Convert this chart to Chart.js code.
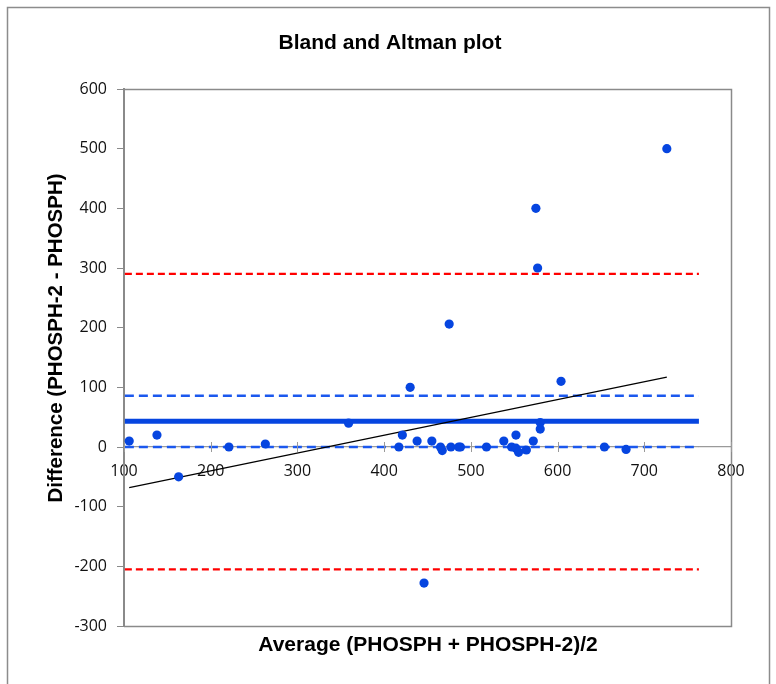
<!DOCTYPE html>
<html>
<head>
<meta charset="utf-8">
<script src="https://cdn.jsdelivr.net/npm/chart.js@4.4.0/dist/chart.umd.min.js"></script>
<style>
  html, body { margin: 0; padding: 0; background: #fff; }
  #wrap { width: 776px; height: 684px; }
</style>
</head>
<body>
<div id="wrap"><canvas id="ba" width="776" height="684"></canvas></div>
<script>
// --- data ---
const AVG  = [106, 138, 163, 221, 263, 359, 417, 421, 430, 438, 446, 455, 465, 467, 475, 477, 486, 488,
              518, 538, 547, 552, 552, 555, 564, 572, 575, 577, 580, 580, 604, 654, 679, 726];
const DIFF = [10, 20, -50, 0, 5, 40, 0, 20, 100, 10, -228, 10, 0, -6, 206, 0, 0, 0,
              0, 10, 0, 20, -2, -9, -5, 10, 400, 300, 30, 41, 110, 0, -4, 500];

const MEAN_DIFF = 43;
const CI_UPPER = 86;
const CI_LOWER = 0;
const LOA_UPPER = 290;
const LOA_LOWER = -205;
const LINE_X = [101, 763];

const REG_X = [106, 726];
const REG_Y = [-68, 117];

const X_RANGE = [100, 800];
const Y_RANGE = [-300, 600];
const TICK_STEP = 100;

const TITLE = 'Bland and Altman plot';
const X_TITLE = 'Average (PHOSPH + PHOSPH-2)/2';
const Y_TITLE = 'Difference (PHOSPH-2 - PHOSPH)';

const BLUE = '#0645e0';
const BLUE_DASH = '#1b58ee';
const RED = '#ff0000';
const AXIS_GREY = '#8a8a8a';

function hline(y) {
    return LINE_X.map(x => ({ x: x, y: y }));
}

// frame, titles and crossing x ticks (Excel style)
const decor = {
    id: 'decor',
    beforeDraw(chart) {
        const ctx = chart.ctx;
        ctx.save();
        ctx.fillStyle = '#fff';
        ctx.fillRect(0, 0, chart.width, chart.height);
        ctx.strokeStyle = '#8c8c8c';
        ctx.lineWidth = 1.5;
        ctx.strokeRect(7.5, 7.5, 762, 700);
        ctx.restore();
    },
    afterDraw(chart) {
        const ctx = chart.ctx;
        const a = chart.chartArea;
        const xs = chart.scales.x, ys = chart.scales.y;
        ctx.save();
        // plot area border
        ctx.strokeStyle = AXIS_GREY;
        ctx.lineWidth = 1.5;
        ctx.beginPath();
        ctx.moveTo(a.left, a.top + 0.5);
        ctx.lineTo(a.right + 0.5, a.top + 0.5);
        ctx.lineTo(a.right + 0.5, a.bottom + 0.5);
        ctx.lineTo(a.left, a.bottom + 0.5);
        ctx.stroke();
        // x ticks crossing the axis at y = 0
        const y0 = ys.getPixelForValue(0);
        ctx.lineWidth = 1;
        ctx.strokeStyle = '#9a9a9a';
        xs.ticks.forEach(t => {
            const px = Math.round(xs.getPixelForValue(t.value)) + 0.5;
            ctx.beginPath();
            ctx.moveTo(px, y0 - 5);
            ctx.lineTo(px, y0 + 5);
            ctx.stroke();
        });
        // titles
        ctx.fillStyle = '#000';
        ctx.textAlign = 'center';
        ctx.textBaseline = 'middle';
        ctx.font = "bold 21px 'Liberation Sans', Arial, sans-serif";
        ctx.fillText(TITLE, 390, 43);
        ctx.font = "bold 21px 'Liberation Sans', Arial, sans-serif";
        ctx.fillText(X_TITLE, 428, 645);
        ctx.font = "bold 20.5px 'Liberation Sans', Arial, sans-serif";
        ctx.translate(56, 338);
        ctx.rotate(-Math.PI / 2);
        ctx.fillText(Y_TITLE, 0, 0);
        ctx.restore();
    }
};

new Chart(document.getElementById('ba'), {
    type: 'scatter',
    data: {
        datasets: [
            {
                label: 'Differences',
                data: AVG.map((x, i) => ({ x: x, y: DIFF[i] })),
                backgroundColor: BLUE,
                borderColor: BLUE,
                pointRadius: 4.6,
                pointBorderWidth: 0,
                order: 0
            },
            {
                label: 'Mean',
                data: hline(MEAN_DIFF),
                showLine: true,
                borderColor: BLUE,
                borderWidth: 5,
                pointRadius: 0,
                order: 2
            },
            {
                label: 'CI upper',
                data: hline(CI_UPPER),
                showLine: true,
                borderColor: BLUE_DASH,
                borderWidth: 2.5,
                borderDash: [9, 5],
                pointRadius: 0,
                order: 3
            },
            {
                label: 'CI lower',
                data: hline(CI_LOWER),
                showLine: true,
                borderColor: BLUE_DASH,
                borderWidth: 2.5,
                borderDash: [9, 5],
                pointRadius: 0,
                order: 3
            },
            {
                label: 'LoA upper',
                data: hline(LOA_UPPER),
                showLine: true,
                borderColor: RED,
                borderWidth: 2.2,
                borderDash: [7, 4],
                pointRadius: 0,
                order: 3
            },
            {
                label: 'LoA lower',
                data: hline(LOA_LOWER),
                showLine: true,
                borderColor: RED,
                borderWidth: 2.2,
                borderDash: [7, 4],
                pointRadius: 0,
                order: 3
            },
            {
                label: 'Regression',
                data: REG_X.map((x, i) => ({ x: x, y: REG_Y[i] })),
                showLine: true,
                borderColor: '#000',
                borderWidth: 1.2,
                pointRadius: 0,
                order: 1
            }
        ]
    },
    options: {
        responsive: false,
        animation: false,
        layout: { padding: { top: 89, right: 45, bottom: 58, left: 7 } },
        plugins: {
            legend: { display: false },
            tooltip: { enabled: false }
        },
        scales: {
            x: {
                type: 'linear',
                position: { y: 0 },
                min: X_RANGE[0],
                max: X_RANGE[1],
                ticks: {
                    stepSize: TICK_STEP,
                    padding: 10,
                    color: '#111',
                    font: { family: "'Open Sans', sans-serif", size: 16 }
                },
                grid: { drawOnChartArea: false, color: 'rgba(0,0,0,0)', tickLength: 5 },
                border: { color: '#9a9a9a', width: 1.2 }
            },
            y: {
                type: 'linear',
                min: Y_RANGE[0],
                max: Y_RANGE[1],
                ticks: {
                    stepSize: TICK_STEP,
                    padding: 10,
                    color: '#111',
                    font: { family: "'Open Sans', sans-serif", size: 16 }
                },
                grid: { drawOnChartArea: false, color: AXIS_GREY, tickLength: 7 },
                border: { color: AXIS_GREY, width: 2 },
                afterFit(scale) {
                    scale.width = 117;
                    scale.paddingTop = 0;
                    scale.paddingBottom = 0;
                }
            }
        }
    },
    plugins: [decor]
});
</script>
</body>
</html>
